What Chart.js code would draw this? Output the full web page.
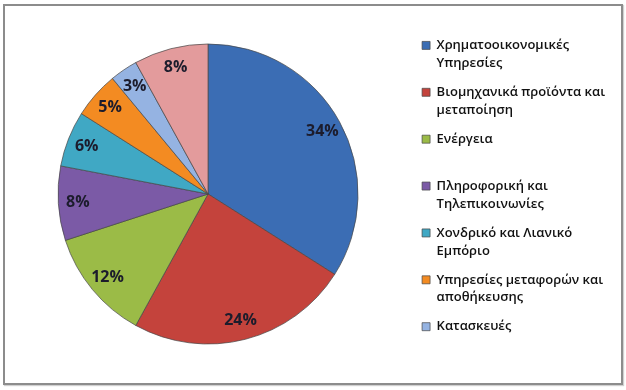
<!DOCTYPE html>
<html>
<head>
<meta charset="utf-8">
<script src="https://cdn.jsdelivr.net/npm/chart.js@4/dist/chart.umd.min.js"></script>
<style>
	html, body { margin: 0; padding: 0; background: #fff; }
	#frame {
		position: absolute;
		left: 3px; top: 4px;
		width: 620px; height: 381px;
		box-sizing: border-box;
		border: 2px solid #8c8c8c;
		box-shadow: 1px 1px 1px #d0d0d0;
	}
	#wrap { position: absolute; left: 0; top: 0; width: 616px; height: 377px; }
</style>
</head>
<body>
<div id="frame"><div id="wrap"><canvas id="pie-chart"></canvas></div></div>
<script>
// Sector labels (line breaks as in the legend), shares in %
var categories = [
	['Χρηματοοικονομικές', 'Υπηρεσίες'],
	['Βιομηχανικά προϊόντα και', 'μεταποίηση'],
	['Ενέργεια', ''],
	['Πληροφορική και', 'Τηλεπικοινωνίες'],
	['Χονδρικό και Λιανικό', 'Εμπόριο'],
	['Υπηρεσίες μεταφορών και', 'αποθήκευσης'],
	['Κατασκευές', ''],
	['Λοιποί κλάδοι', '']
];
var shares = [34, 24, 12, 8, 6, 5, 3, 8];
var sliceColors = ['#3b6db4', '#c4433c', '#9bbb47', '#7b5aa6', '#40a8c4', '#f38b22', '#95b3e2', '#e39b9c'];
var legendCount = 7; // last slice has no legend entry in the original

(function () {
	'use strict';

	// Draws the percentage inside every slice
	var sliceLabels = {
		id: 'sliceLabels',
		afterDatasetsDraw: function (chart) {
			var ctx = chart.ctx;
			var meta = chart.getDatasetMeta(0);
			ctx.save();
			ctx.font = 'bold 16px "Open Sans", sans-serif';
			ctx.fillStyle = '#1c1c2c';
			ctx.textAlign = 'center';
			ctx.textBaseline = 'middle';
			meta.data.forEach(function (arc, i) {
				var p = arc.getProps(['x', 'y', 'startAngle', 'endAngle', 'outerRadius'], true);
				var mid = (p.startAngle + p.endAngle) / 2;
				var r = p.outerRadius * 0.87;
				ctx.fillText(shares[i] + '%', p.x + Math.cos(mid) * r, p.y + Math.sin(mid) * r);
			});
			ctx.restore();
		}
	};

	var ctx = document.getElementById('pie-chart').getContext('2d');

	new Chart(ctx, {
		type: 'pie',
		data: {
			labels: categories,
			datasets: [{
				data: shares,
				backgroundColor: sliceColors,
				borderColor: 'rgba(70, 70, 70, 0.7)',
				borderWidth: 1,
				radius: 150
			}]
		},
		plugins: [sliceLabels],
		options: {
			responsive: true,
			maintainAspectRatio: false,
			animation: false,
			layout: {
				padding: { top: 10, bottom: 11, left: 0, right: 6 }
			},
			plugins: {
				legend: {
					position: 'right',
					align: 'center',
					// empty title only nudges the centred column down a little
					title: { display: true, text: '', padding: 0, font: { size: 5, lineHeight: 1.4 } },
					labels: {
						boxWidth: 8,
						boxHeight: 8,
						padding: 11,
						color: '#111',
						font: { family: '"Open Sans", sans-serif', size: 13, weight: '600', lineHeight: 1.38 },
						filter: function (item) {
							return item.index < legendCount;
						}
					}
				},
				tooltip: { enabled: false }
			}
		}
	});
})();
</script>
</body>
</html>
